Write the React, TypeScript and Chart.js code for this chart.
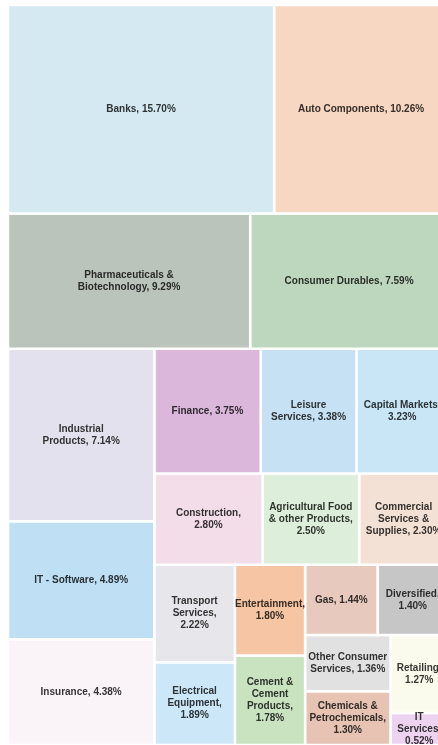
import { useEffect, useRef } from "react";
import { Chart, registerables } from "chart.js";

Chart.register(...registerables);

// ---- data ----
const sectors = [
  "Banks",
  "Auto Components",
  "Pharmaceuticals &\nBiotechnology",
  "Consumer Durables",
  "Industrial\nProducts",
  "IT - Software",
  "Insurance",
  "Finance",
  "Leisure\nServices",
  "Capital Markets",
  "Construction",
  "Agricultural Food\n& other Products",
  "Commercial\nServices &\nSupplies",
  "Transport\nServices",
  "Electrical\nEquipment",
  "Entertainment",
  "Cement &\nCement\nProducts",
  "Gas",
  "Diversified",
  "Other Consumer\nServices",
  "Chemicals &\nPetrochemicals",
  "Retailing",
  "IT\nServices",
];

const weights = [
  15.7, 10.26, 9.29, 7.59, 7.14, 4.89, 4.38, 3.75, 3.38, 3.23, 2.8, 2.5, 2.3,
  2.22, 1.89, 1.8, 1.78, 1.44, 1.4, 1.36, 1.3, 1.27, 0.52,
];

const valueOnNewLine = [
  false, false, false, false, false, false, false, false, false, true, true,
  true, false, true, true, true, true, false, true, false, true, true, true,
];

const fillColors = [
  "#d4e9f1", "#f7d6c2", "#bac4ba", "#bdd7be", "#e4e1ee", "#bfe0f4",
  "#faf3f8", "#dcb7dc", "#c6e1f3", "#c9e6f6", "#f3dde8", "#ddefda",
  "#f4e1d5", "#e7e7eb", "#cce8f8", "#f6c6a4", "#c9e3c1", "#e8c9bd",
  "#c6c6c6", "#e1e1e1", "#e6c3b3", "#fbfbed", "#eed3f0",
];

// number of cells in each successive strip of the treemap, and the strip direction
const stripCounts = [2, 2, 3, 3, 3, 2, 2, 2, 2, 1, 1];
const stripDirs = ["row", "row", "col", "row", "row", "col", "col", "row", "col", "row", "col"];

// treemap extent in scale units (the view clips its right edge)
const TREE_W = 440;
const TREE_H = 740;
const VIEW_W = 430;

type Rect = { x0: number; y0: number; x1: number; y1: number };

function layoutStrips(values: number[], counts: number[], dirs: string[], W: number, H: number): Rect[] {
  const total = values.reduce((a, b) => a + b, 0);
  const k = (W * H) / total;
  const out: Rect[] = [];
  let x = 0, y = 0, w = W, h = H, i = 0;
  counts.forEach((n, s) => {
    const group = values.slice(i, i + n);
    const area = group.reduce((a, b) => a + b, 0) * k;
    if (dirs[s] === "row") {
      const sh = area / w;
      let cx = x;
      for (const v of group) {
        const cw = (v * k) / sh;
        out.push({ x0: cx, y0: y, x1: cx + cw, y1: y + sh });
        cx += cw;
      }
      y += sh;
      h -= sh;
    } else {
      const sw = area / h;
      let cy = y;
      for (const v of group) {
        const ch = (v * k) / sw;
        out.push({ x0: x, y0: cy, x1: x + sw, y1: cy + ch });
        cy += ch;
      }
      x += sw;
      w -= sw;
    }
    i += n;
  });
  return out;
}

function darken(hex: string, f: number) {
  const n = parseInt(hex.slice(1), 16);
  const r = Math.round(((n >> 16) & 255) * f);
  const g = Math.round(((n >> 8) & 255) * f);
  const b = Math.round((n & 255) * f);
  return `rgb(${r},${g},${b})`;
}

function labelLines(i: number): string[] {
  const pct = weights[i].toFixed(2) + "%";
  const lines = sectors[i].split("\n");
  if (valueOnNewLine[i]) {
    lines[lines.length - 1] += ",";
    lines.push(pct);
  } else {
    lines[lines.length - 1] += ", " + pct;
  }
  return lines;
}

export default function App() {
  const canvasRef = useRef<HTMLCanvasElement | null>(null);

  useEffect(() => {
    if (!canvasRef.current) return;
    const rects = layoutStrips(weights, stripCounts, stripDirs, TREE_W, TREE_H);

    const datasets = rects.map((r, i) => ({
      label: sectors[i].replace(/\n/g, " "),
      data: [
        { x: r.x0, y: r.y0 },
        { x: r.x1, y: r.y0 },
        { x: r.x1, y: r.y1 },
        { x: r.x0, y: r.y1 },
        { x: r.x0, y: r.y0 },
      ],
      showLine: true,
      fill: "shape",
      backgroundColor: fillColors[i],
      borderColor: "#ffffff",
      borderWidth: 2.5,
      pointRadius: 0,
      pointHoverRadius: 0,
      tension: 0,
    }));

    const labelPlugin = {
      id: "cellLabels",
      afterDatasetsDraw(chart: any) {
        const { ctx, chartArea, scales } = chart;
        const xs = scales.x, ys = scales.y;
        ctx.save();
        ctx.beginPath();
        ctx.rect(chartArea.left, chartArea.top, chartArea.right - chartArea.left, chartArea.bottom - chartArea.top);
        ctx.clip();
        ctx.font = 'bold 10px "Liberation Sans", Arial, sans-serif';
        ctx.textAlign = "center";
        ctx.textBaseline = "middle";
        const lh = 12;
        rects.forEach((r, i) => {
          const cx = xs.getPixelForValue((r.x0 + r.x1) / 2);
          const cy = ys.getPixelForValue((r.y0 + r.y1) / 2);
          const lines = labelLines(i);
          ctx.fillStyle = darken(fillColors[i], 0.22);
          lines.forEach((ln, k) => {
            ctx.fillText(ln, cx, cy + (k - (lines.length - 1) / 2) * lh);
          });
        });
        ctx.restore();
      },
    };

    const chart = new Chart(canvasRef.current, {
      type: "scatter",
      data: { datasets: datasets as any },
      options: {
        animation: false,
        responsive: true,
        maintainAspectRatio: false,
        layout: { padding: { left: 8, top: 5, right: 0, bottom: 0 } },
        scales: {
          x: { type: "linear", display: false, min: 0, max: VIEW_W },
          y: { type: "linear", display: false, min: 0, max: TREE_H, reverse: true },
        },
        plugins: {
          legend: { display: false },
          tooltip: { enabled: false },
        },
        events: [],
      },
      plugins: [labelPlugin],
    });
    return () => chart.destroy();
  }, []);

  return (
    <div style={{ position: "fixed", left: 0, top: 0, width: 438, height: 745, background: "#fff" }}>
      <canvas ref={canvasRef} />
    </div>
  );
}
